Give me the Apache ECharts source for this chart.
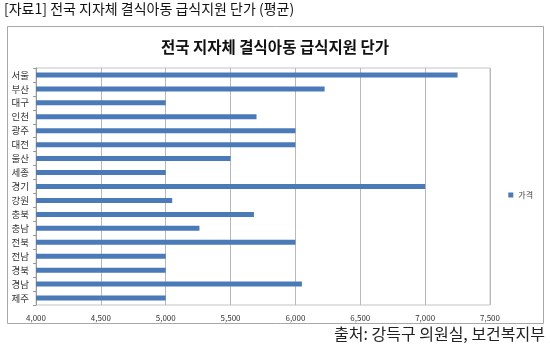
<!DOCTYPE html>
<html><head><meta charset="utf-8">
<script src="https://cdn.jsdelivr.net/npm/echarts@6/dist/echarts.min.js"></script>
<style>html,body{margin:0;padding:0;background:#fff}#c{width:550px;height:349px}</style>
</head><body><div id="c"></div>
<script>
const categories = ['서울','부산','대구','인천','광주','대전','울산','세종','경기','강원','충북','충남','전북','전남','경북','경남','제주'];
const values = [7250,6225,5000,5700,6000,6000,5500,5000,7000,5050,5680,5260,6000,5000,5000,6050,5000];
const seriesName = '가격';
const xTicks = [4000,4500,5000,5500,6000,6500,7000,7500];

const chart = echarts.init(document.getElementById('c'));
const font = '"Noto Sans CJK KR", "Noto Sans", sans-serif';
chart.setOption({
  animation:false,
  textStyle:{fontFamily:font},
  graphic:[
    {type:'rect', shape:{x:7.5,y:26.5,width:536,height:297}, style:{fill:'#fff',stroke:'#a8a8a8',lineWidth:1}, z:-1},
    {type:'text', left:4, top:2, style:{text:'[자료1] 전국 지자체 결식아동 급식지원 단가 (평균)', font:'14px "Noto Sans CJK KR"', fill:'#111'}},
    {type:'text', right:5, top:326, style:{text:'출처: 강득구 의원실, 보건복지부', font:'16px "Noto Sans CJK KR"', fill:'#222'}}
  ],
  title:{text:'전국 지자체 결식아동 급식지원 단가', left:'center', top:34, textStyle:{fontSize:15.5, fontWeight:'bold', color:'#111', fontFamily:font}},
  legend:{data:[seriesName], right:12, top:186, itemWidth:5, itemHeight:5, itemGap:3, icon:'rect', textStyle:{fontSize:8,color:'#444',fontFamily:font}},
  grid:{left:36, right:60, top:68, bottom:44, containLabel:false, show:true, borderColor:'#c4c4c4', borderWidth:1},
  xAxis:{type:'value', min:4000, max:7500, interval:500,
    axisLine:{show:false}, axisTick:{show:false},
    splitLine:{show:true, lineStyle:{color:'#b8b8b8', width:1}},
    axisLabel:{fontSize:8, color:'#333', margin:9, formatter:v=>v.toLocaleString('en-US')}},
  yAxis:{type:'category', data:categories, inverse:true,
    axisLine:{show:true, lineStyle:{color:'#999'}},
    axisTick:{show:true, length:3, lineStyle:{color:'#999'}},
    axisLabel:{fontSize:9.5, color:'#333', margin:7}},
  series:[{name:seriesName, type:'bar', data:values, barWidth:5, itemStyle:{color:'#4a7ab8'}}]
});
</script></body></html>
